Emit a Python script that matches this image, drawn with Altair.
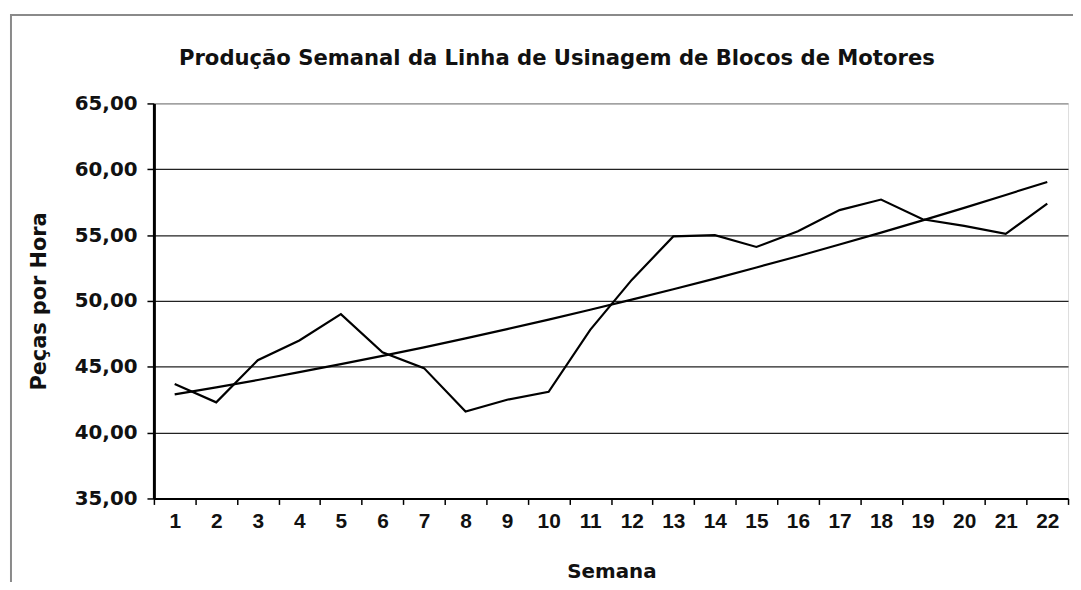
import altair as alt
import pandas as pd

# ---- data ----
semanas = [1, 2, 3, 4, 5, 6, 7, 8, 9, 10, 11, 12, 13, 14, 15, 16, 17, 18, 19, 20, 21, 22]
producao = [43.7, 42.3, 45.5, 47.0, 49.0, 46.1, 44.9, 41.6, 42.5, 43.1, 47.8,
            51.6, 54.9, 55.0, 54.1, 55.3, 56.9, 57.7, 56.2, 55.7, 55.1, 57.4]
tendencia = [42.90, 43.44, 44.00, 44.59, 45.20, 45.83, 46.48, 47.16, 47.86, 48.58, 49.33,
             50.10, 50.89, 51.70, 52.54, 53.40, 54.29, 55.19, 56.12, 57.07, 58.05, 59.04]
y_ticks = [35, 40, 45, 50, 55, 60, 65]

titulo = "Produção Semanal da Linha de Usinagem de Blocos de Motores"
titulo_x = "Semana"
titulo_y = "Peças por Hora"

df = pd.DataFrame({"Semana": semanas, "Produção": producao, "Tendência": tendencia})
long = df.melt("Semana", var_name="serie", value_name="valor")

W, H = 921, 398

x_enc = alt.X(
    "Semana:O",
    sort=semanas,
    bandPosition=0.5,
    scale=alt.Scale(type="band", paddingInner=0, paddingOuter=0),
    axis=alt.Axis(
        labelAngle=0, tickBand="extent", grid=False,
        domainColor="black", domainWidth=2,
        tickColor="black", tickSize=6, tickWidth=1.5,
        labelFont="Liberation Sans", labelFontWeight="bold", labelFontSize=21,
        labelColor="#111", labelPadding=6,
        title=titulo_x, titleFont="DejaVu Sans", titleFontWeight="bold",
        titleFontSize=20, titleColor="#111",
        titleX=461, titleY=74, titleAlign="center", titleBaseline="middle",
    ),
)

y_enc = alt.Y(
    "valor:Q",
    scale=alt.Scale(domain=[35, 65], nice=False, zero=False),
    axis=alt.Axis(
        values=y_ticks, format=".2f", labelExpr="replace(datum.label, '.', ',')",
        grid=True,
        gridColor=alt.condition("datum.value == 65", alt.value("#8a8a8a"), alt.value("#222222")),
        gridWidth=1.2,
        domainColor="black", domainWidth=3,
        tickColor="black", tickSize=7, tickWidth=1.5,
        labelFont="DejaVu Sans", labelFontWeight="bold", labelFontSize=20,
        labelColor="#111", labelPadding=10,
        title=titulo_y, titleFont="DejaVu Sans", titleFontWeight="bold",
        titleFontSize=21, titleColor="#111",
        titleX=-115, titleY=199, titleAngle=-90, titleAlign="center", titleBaseline="middle",
    ),
)

linhas = alt.Chart(long).mark_line(color="black", strokeWidth=2.2).encode(
    x=x_enc, y=y_enc, detail="serie:N"
)

moldura = alt.Chart(pd.DataFrame({"k": [0]})).mark_rect(
    filled=False, stroke="#8a8a8a", strokeWidth=2
).encode(
    x=alt.value(-144), x2=alt.value(W + 40), y=alt.value(-89), y2=alt.value(H + 200)
)

cabecalho = alt.Chart(pd.DataFrame({"t": [titulo]})).mark_text(
    font="DejaVu Sans", fontWeight="bold", fontSize=21.3, color="#111",
    align="center", baseline="middle",
).encode(text="t:N", x=alt.value(406), y=alt.value(-45))

chart = alt.layer(moldura, linhas, cabecalho).properties(
    width=W, height=H,
    autosize=alt.AutoSizeParams(type="none"),
    padding={"left": 147, "top": 94, "right": 5, "bottom": 82},
).configure_view(stroke="#8a8a8a", strokeWidth=2).configure(background="white")

chart.save("out.html", embed_options={"renderer": "svg", "actions": False})
